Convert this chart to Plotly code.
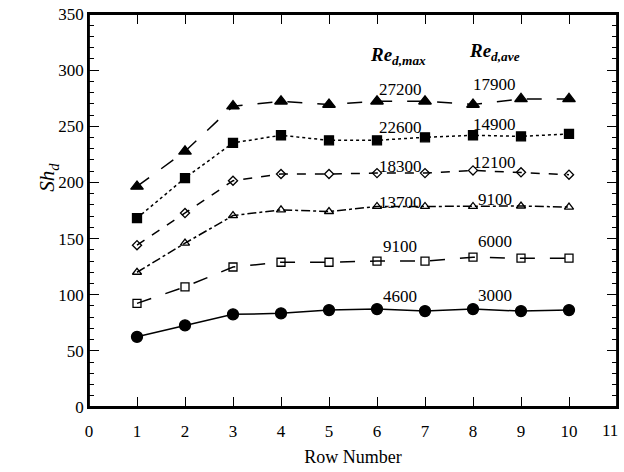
import plotly.graph_objects as go

rows = [1, 2, 3, 4, 5, 6, 7, 8, 9, 10]

sh_4600 = [62.5, 72.7, 82.5, 83.4, 86.3, 87.2, 85.4, 87.2, 85.4, 86.3]
sh_9100 = [92.3, 107, 124.7, 128.9, 128.9, 130, 130, 133.4, 132.5, 132.5]
sh_13700 = [120, 145.9, 170.5, 175.6, 174.1, 178.6, 178.6, 178.6, 179, 178]
sh_18300 = [144.1, 172.7, 201.5, 207.5, 207.5, 208.3, 208.3, 210.7, 209, 206.9]
sh_22600 = [168.2, 203.9, 235.2, 242, 237.5, 237.5, 240.2, 242, 241, 243.2]
sh_27200 = [196.4, 227.7, 267.9, 272.3, 269.4, 272.3, 272.3, 269.4, 274.4, 274.4]

re_max = ["4600", "9100", "13700", "18300", "22600", "27200"]
re_ave = ["3000", "6000", "9100", "12100", "14900", "17900"]
label_y_max = [98.2, 142.9, 181.8, 214, 248.8, 282.8]
label_y_ave = [99.7, 147.3, 184.5, 217.5, 251.5, 287]

series = [
    (sh_4600, "solid", "circle", 11),
    (sh_9100, "longdash", "square-open", 8),
    (sh_13700, "dashdot", "triangle-up-open", 8),
    (sh_18300, "dash", "diamond-open", 7),
    (sh_22600, "dot", "square", 9),
    (sh_27200, "longdash", "triangle-up", 11),
]

FONT = "Liberation Serif"
fig = go.Figure()
for ys, dash, sym, size in series:
    fig.add_trace(go.Scatter(
        x=rows, y=ys, mode="lines+markers",
        line=dict(color="black", width=1.5, dash=dash),
        marker=dict(symbol=sym, size=size, color="black",
                    line=dict(color="black", width=1.3)),
        showlegend=False))

# invisible trace on the right-hand axis so its ticks render
fig.add_trace(go.Scatter(x=[rows[0]], y=[sh_4600[0]], yaxis="y2", mode="markers",
                         marker=dict(opacity=0), showlegend=False, hoverinfo="skip"))

for t, y in zip(re_max, label_y_max):
    fig.add_annotation(x=6.48, y=y, text=t, showarrow=False,
                       font=dict(family=FONT, size=17, color="black"))
for t, y in zip(re_ave, label_y_ave):
    fig.add_annotation(x=8.45, y=y, text=t, showarrow=False,
                       font=dict(family=FONT, size=17, color="black"))

fig.add_annotation(x=6.44, y=313, text="<b><i>Re</i></b><sub><b><i>d,max</i></b></sub>",
                   showarrow=False, font=dict(family=FONT, size=19, color="black"))
fig.add_annotation(x=8.45, y=316, text="<b><i>Re</i></b><sub><b><i>d,ave</i></b></sub>",
                   showarrow=False, font=dict(family=FONT, size=19, color="black"))

# y-axis title placed like the reference
fig.add_annotation(xref="paper", yref="paper", x=-0.105, y=0.585, textangle=-90,
                   text="<i>Sh</i><sub><i>d</i></sub>", showarrow=False,
                   font=dict(family=FONT, size=21, color="black"))
# last x tick label, at the page edge
fig.add_annotation(x=11, y=0, yref="y", text="11", showarrow=False, yshift=-23,
                   xanchor="right", xshift=3,
                   font=dict(family=FONT, size=17, color="black"))

# frame around the plotting area
fig.add_shape(type="rect", xref="paper", yref="paper", x0=0, x1=1, y0=0, y1=1,
              line=dict(color="black", width=1.8), layer="above")

fig.update_layout(
    width=624, height=472,
    margin=dict(l=89, r=5, t=14, b=65),
    paper_bgcolor="white", plot_bgcolor="white",
    font=dict(family=FONT, size=17, color="black"),
    xaxis=dict(range=[0, 11], tickmode="array", tickvals=list(range(0, 11)),
               ticks="inside", ticklen=10, tickwidth=1.3, tickcolor="black",
               ticklabelstandoff=8,
               showline=True, linecolor="black", linewidth=1.8, mirror="ticks",
               showgrid=False, zeroline=False,
               title=dict(text="Row Number", font=dict(family=FONT, size=18), standoff=10)),
    yaxis=dict(range=[0, 350], tickmode="array", tickvals=list(range(0, 351, 50)),
               ticks="inside", ticklen=10, tickwidth=1.3, tickcolor="black",
               minor=dict(dtick=10, ticks="inside", ticklen=5, tickcolor="black", tickwidth=1),
               showline=True, linecolor="black", linewidth=1.8, mirror=True,
               showgrid=False, zeroline=False),
    yaxis2=dict(range=[0, 350], overlaying="y", side="right", tickmode="array",
                tickvals=list(range(0, 351, 50)), showticklabels=False,
                ticks="inside", ticklen=10, tickwidth=1.3, tickcolor="black",
                minor=dict(dtick=10, ticks="inside", ticklen=5, tickcolor="black", tickwidth=1),
                showline=True, linecolor="black", linewidth=1.8,
                showgrid=False, zeroline=False),
)

fig.write_html("out.html")
